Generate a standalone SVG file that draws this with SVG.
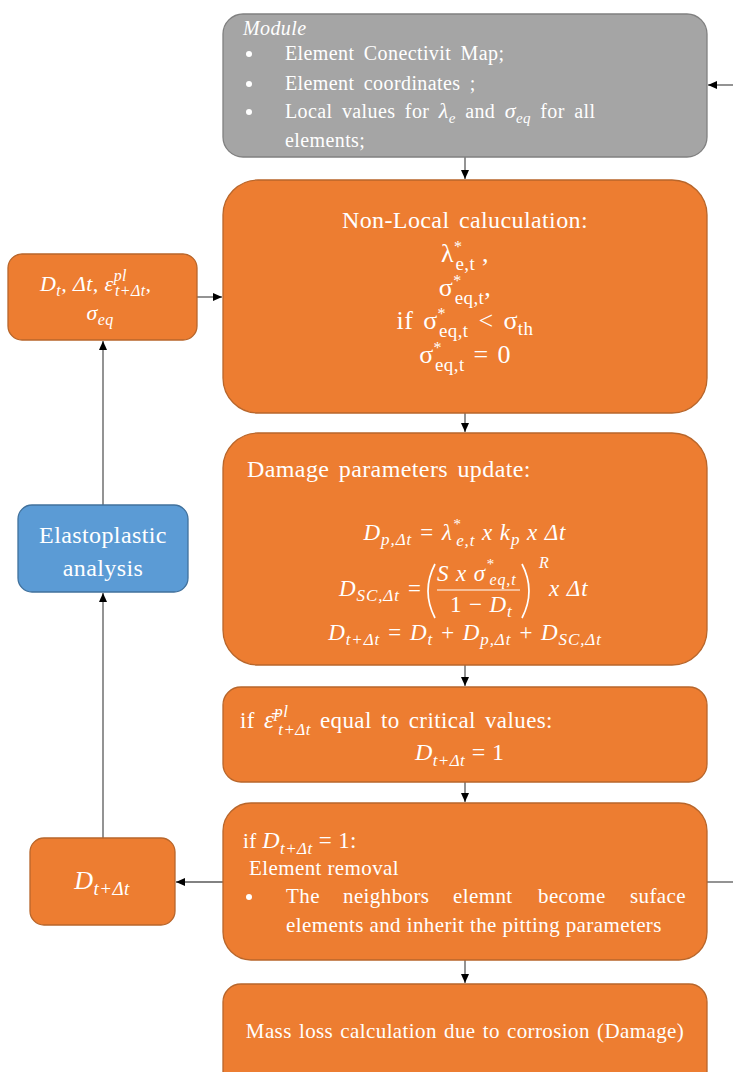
<svg xmlns="http://www.w3.org/2000/svg" width="733" height="1072" viewBox="0 0 733 1072">
<style>
text{font-family:'Liberation Serif','DejaVu Serif',serif;fill:#ffffff;letter-spacing:0.4px}
.bo{fill:#ED7D31;stroke:#B8662B;stroke-width:1.3}
.bg{fill:#A5A5A5;stroke:#808080;stroke-width:1.3}
.bb{fill:#5B9BD5;stroke:#41719C;stroke-width:1.3}
.ln{stroke:#595959;stroke-width:1.3;fill:none}
.it{font-style:italic}
.c{text-anchor:middle}
.eq{font-style:italic;font-size:23px;letter-spacing:0.9px}
</style>
<defs>
<marker id="ah" markerWidth="10" markerHeight="10" refX="9" refY="5" orient="auto" markerUnits="userSpaceOnUse">
<path d="M0,1 L9,5 L0,9 Z" fill="#000"/>
</marker>
</defs>
<g id="connectors">
<line class="ln" x1="733" y1="85" x2="708" y2="85" marker-end="url(#ah)"/>
<line class="ln" x1="465" y1="157" x2="465" y2="179" marker-end="url(#ah)"/>
<line class="ln" x1="197" y1="297" x2="222" y2="297" marker-end="url(#ah)"/>
<line class="ln" x1="465" y1="413" x2="465" y2="432" marker-end="url(#ah)"/>
<line class="ln" x1="465" y1="665" x2="465" y2="686" marker-end="url(#ah)"/>
<line class="ln" x1="465" y1="782" x2="465" y2="802" marker-end="url(#ah)"/>
<line class="ln" x1="465" y1="960" x2="465" y2="983" marker-end="url(#ah)"/>
<line class="ln" x1="223" y1="882" x2="176" y2="882" marker-end="url(#ah)"/>
<line class="ln" x1="707" y1="882" x2="733" y2="882"/>
<line class="ln" x1="103" y1="838" x2="103" y2="593" marker-end="url(#ah)"/>
<line class="ln" x1="103" y1="505" x2="103" y2="341" marker-end="url(#ah)"/>
</g>
<g id="module">
<rect class="bg" x="223" y="14" width="484" height="143" rx="20"/>
<text x="243" y="35" font-size="20" class="it">Module</text>
<circle cx="249" cy="54" r="3" fill="#fff"/>
<circle cx="249" cy="84" r="3" fill="#fff"/>
<circle cx="249" cy="112" r="3" fill="#fff"/>
<text x="285" y="60" font-size="20" word-spacing="4">Element Conectivit Map;</text>
<text x="285" y="90" font-size="20" word-spacing="4">Element coordinates ;</text>
<text x="285" y="118" font-size="20" word-spacing="4">Local values for <tspan class="it" font-size="22">λ</tspan><tspan class="it" dy="5" font-size="15">e</tspan><tspan dy="-5"> and </tspan><tspan class="it" font-size="22">σ</tspan><tspan class="it" dy="5" font-size="15">eq</tspan><tspan dy="-5"> for all</tspan></text>
<text x="285" y="147" font-size="20">elements;</text>
</g>
<g id="nonlocal">
<rect class="bo" x="223" y="180" width="484" height="233" rx="35"/>
<text x="465" y="228" font-size="24" class="c" word-spacing="3">Non-Local caluculation:</text>
<text x="465" y="262" font-size="26" class="c">λ<tspan dy="-10" font-size="16">*</tspan><tspan dx="-7" dy="18" font-size="19">e,t</tspan><tspan dy="-8"> ,</tspan></text>
<text x="465" y="296" font-size="26" class="c">σ<tspan dy="-10" font-size="16">*</tspan><tspan dx="-7" dy="18" font-size="19">eq,t</tspan><tspan dy="-8">,</tspan></text>
<text x="465" y="329" font-size="26" class="c" word-spacing="3">if σ<tspan dy="-10" font-size="16">*</tspan><tspan dx="-7" dy="18" font-size="19">eq,t</tspan><tspan dy="-8"> &lt; σ</tspan><tspan dy="6" font-size="19">th</tspan></text>
<text x="465" y="363" font-size="26" class="c" word-spacing="2">σ<tspan dy="-10" font-size="16">*</tspan><tspan dx="-7" dy="18" font-size="19">eq,t</tspan><tspan dy="-8"> = 0</tspan></text>
</g>
<g id="inputs">
<rect class="bo" x="8" y="254" width="189" height="86" rx="14"/>
<text x="40" y="291" font-size="22" class="it" letter-spacing="0.8">D<tspan dy="5" font-size="16">t</tspan><tspan dy="-5">,  Δt, ε</tspan><tspan dy="-10" font-size="16">pl</tspan><tspan dx="-12" dy="15" font-size="16">t+Δt</tspan><tspan dy="-5">,</tspan></text>
<text x="100" y="320" font-size="22" class="it c">σ<tspan dy="5" font-size="16">eq</tspan></text>
</g>
<g id="elastoplastic">
<rect class="bb" x="18" y="505" width="170" height="87" rx="14"/>
<text x="103" y="543" font-size="24" class="c">Elastoplastic</text>
<text x="103" y="576" font-size="24" class="c">analysis</text>
</g>
<g id="damage">
<rect class="bo" x="223" y="433" width="484" height="232" rx="35"/>
<text x="247" y="477" font-size="24" word-spacing="3">Damage parameters update:</text>
<text x="465" y="540" class="eq c">D<tspan dy="5" font-size="17">p,Δt</tspan><tspan dy="-5"> =  λ</tspan><tspan dy="-11" font-size="15">*</tspan><tspan dx="-5" dy="17" font-size="17">e,t</tspan><tspan dy="-6"> x k</tspan><tspan dy="5" font-size="17">p</tspan><tspan dy="-5"> x Δt</tspan></text>
<text x="339" y="596" class="eq">D<tspan dy="5" font-size="17">SC,Δt</tspan><tspan dy="-5"> =</tspan></text>
<path d="M435,564 Q421,591 435,618" stroke="#fff" stroke-width="1.7" fill="none"/>
<text x="437" y="581" class="eq">S x σ<tspan dy="-12" font-size="15">*</tspan><tspan dx="-5" dy="16" font-size="16">eq,t</tspan></text>
<line x1="437" y1="590" x2="520" y2="590" stroke="#fff" stroke-width="1.2"/>
<text x="450" y="612" class="eq"><tspan font-style="normal">1 − </tspan>D<tspan dy="5" font-size="17">t</tspan></text>
<path d="M522,564 Q536,591 522,618" stroke="#fff" stroke-width="1.7" fill="none"/>
<text x="539" y="568" font-size="16" class="it">R</text>
<text x="549" y="596" class="eq">x Δt</text>
<text x="465" y="640" class="eq c">D<tspan dy="5" font-size="17">t+Δt</tspan><tspan dy="-5"> =  D</tspan><tspan dy="5" font-size="17">t</tspan><tspan dy="-5"> +  D</tspan><tspan dy="5" font-size="17">p,Δt</tspan><tspan dy="-5"> +  D</tspan><tspan dy="5" font-size="17">SC,Δt</tspan></text>
</g>
<g id="critical">
<rect class="bo" x="223" y="687" width="484" height="95" rx="18"/>
<text x="240" y="728" font-size="23" word-spacing="3">if <tspan class="it" font-size="25">ε̄</tspan><tspan class="it" dy="-11" font-size="17">pl</tspan><tspan class="it" dx="-10" dy="18" font-size="17">t+Δt</tspan><tspan dy="-7"> equal to critical values:</tspan></text>
<text x="415" y="760" font-size="24" class="it">D<tspan dy="6" font-size="17">t+Δt</tspan><tspan dy="-6" font-style="normal"> = 1</tspan></text>
</g>
<g id="removal">
<rect class="bo" x="223" y="803" width="484" height="157" rx="28"/>
<text x="243" y="848" font-size="21">if <tspan class="it" font-size="24">D</tspan><tspan class="it" dy="6" font-size="17">t+Δt</tspan><tspan dy="-6" font-size="23"> =  1:</tspan></text>
<text x="249" y="875" font-size="21">Element removal</text>
<circle cx="249" cy="897" r="3" fill="#fff"/>
<text x="286" y="903" font-size="21">The</text>
<text x="343" y="903" font-size="21">neighbors</text>
<text x="453" y="903" font-size="21">elemnt</text>
<text x="538" y="903" font-size="21">become</text>
<text x="686" y="903" font-size="21" text-anchor="end">suface</text>
<text x="286" y="932" font-size="21">elements and inherit the pitting parameters</text>
</g>
<g id="dnext">
<rect class="bo" x="30" y="838" width="145" height="87" rx="14"/>
<text x="102" y="889" font-size="26" class="it c" letter-spacing="0.8">D<tspan dy="6" font-size="19">t+Δt</tspan></text>
</g>
<g id="massloss">
<rect class="bo" x="223" y="984" width="484" height="110" rx="18"/>
<text x="465" y="1038" font-size="21" class="c" word-spacing="1.5">Mass loss calculation due to corrosion (Damage)</text>
</g>
</svg>
